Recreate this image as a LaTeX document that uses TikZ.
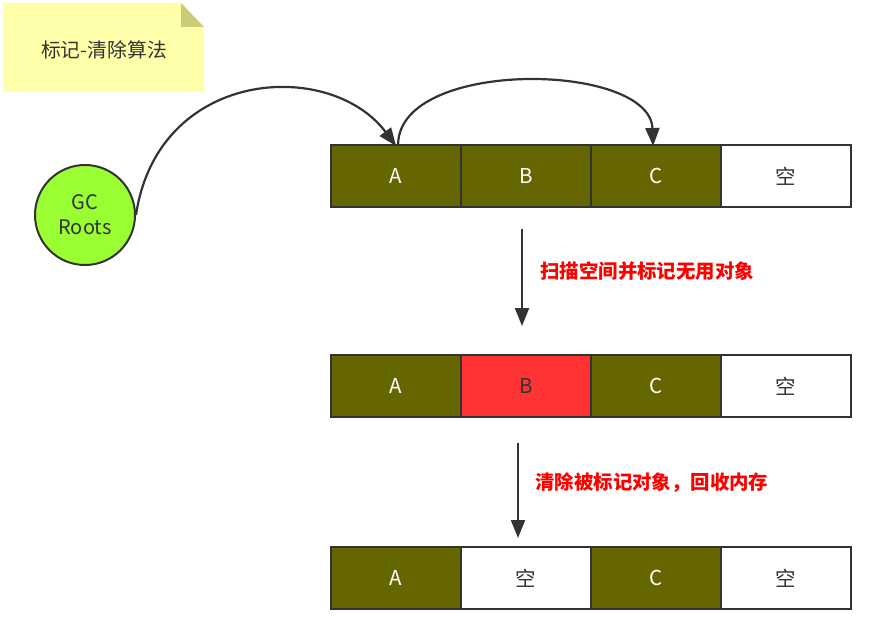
\documentclass[tikz,border=0pt]{standalone}
\usepackage{fontspec}
\setmainfont{Noto Sans CJK SC}
\usetikzlibrary{arrows.meta}
\definecolor{olive}{HTML}{666600}
\definecolor{linec}{HTML}{333333}
\definecolor{notey}{HTML}{FFFFAA}
\definecolor{notef}{HTML}{CCCC77}
\definecolor{rootg}{HTML}{99FF33}
\definecolor{markr}{HTML}{FF3333}
\begin{document}
\begin{tikzpicture}[x=1pt,y=-1pt,
  cell/.style={draw=linec,line width=2.2pt,minimum width=130pt,minimum height=62pt,inner sep=0pt,anchor=north west,font=\fontsize{20.5}{24}\selectfont},
  live/.style={cell,fill=olive,text=white},
  free/.style={cell,fill=white,text=linec},
  dead/.style={cell,fill=markr,text=linec},
  conn/.style={draw=linec,line width=2.2pt,-{Triangle[length=18pt,width=14pt]}},
  lbl/.style={text=red,font=\bfseries\fontsize{19.4}{23}\selectfont,anchor=west}]
\useasboundingbox (0,0) rectangle (869,617);
% note
\fill[notey] (3,3) -- (181,3) -- (204,27) -- (204,92) -- (3,92) -- cycle;
\fill[notef] (181,3) -- (204,27) -- (181,27) -- cycle;
\node[text=linec,font=\fontsize{19.8}{23}\selectfont] (title) at (104,50) {标记-清除算法};
% GC roots
\node[circle,draw=linec,line width=2pt,fill=rootg,minimum size=100pt,inner sep=0pt,align=center,text=linec,font=\fontsize{20}{25}\selectfont] (gc) at (85,215) {GC\\Roots};
% row 1
\node[live] (a1) at (330,144) {A};
\node[live] (b1) at (460,144) {B};
\node[live] (c1) at (590,144) {C};
\node[free] (e1) at (720,144) {空};
% row 2
\node[live] (a2) at (330,354) {A};
\node[dead] (b2) at (460,354) {B};
\node[live] (c2) at (590,354) {C};
\node[free] (e2) at (720,354) {空};
% row 3
\node[live] (a3) at (330,546) {A};
\node[free] (b3) at (460,546) {空};
\node[live] (c3) at (590,546) {C};
\node[free] (e3) at (720,546) {空};
% connectors
\draw[conn] (gc.east) .. controls (158,68) and (330,58) .. ([yshift=-2pt]a1.north);
\draw[conn] ([xshift=2pt]a1.north) .. controls (400,58) and (650,62) .. ([xshift=-3pt,yshift=-2pt]c1.north);
\coordinate (s1) at (522,229);
\coordinate (t1) at (522,326);
\coordinate (s2) at (518,443);
\coordinate (t2) at (518,538);
\draw[conn] (s1) -- (t1);
\draw[conn] (s2) -- (t2);
\node[lbl] (l1) at (537,271) {扫描空间并标记无用对象};
\node[lbl] (l2) at (532,483) {清除被标记对象，回收内存};
\end{tikzpicture}
\end{document}
